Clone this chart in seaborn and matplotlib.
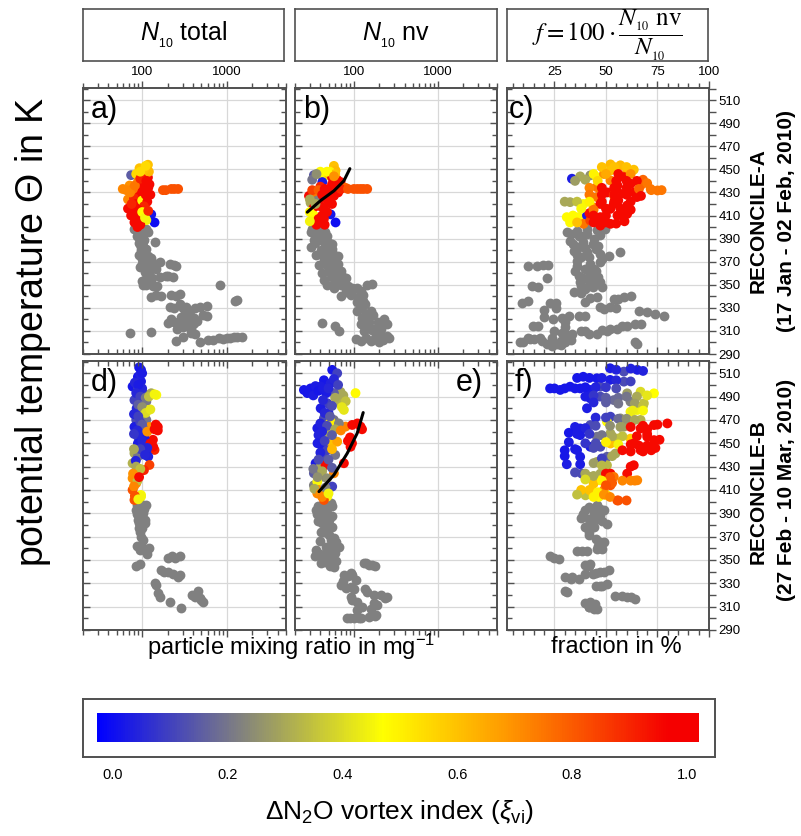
import numpy as np
import matplotlib
matplotlib.use('Agg')
import matplotlib.pyplot as plt
import seaborn as sns
from matplotlib.colors import LinearSegmentedColormap, Normalize
from matplotlib.cm import ScalarMappable
from matplotlib.ticker import FixedLocator, LogLocator, NullFormatter

sns.set_style('white')
plt.rcParams['font.family'] = ['Liberation Sans', 'DejaVu Sans']
plt.rcParams['mathtext.fontset'] = 'custom'
plt.rcParams['mathtext.rm'] = 'Liberation Sans'
plt.rcParams['mathtext.it'] = 'Liberation Sans:italic'
plt.rcParams['mathtext.bf'] = 'Liberation Sans:bold'
for k in ['text.color', 'axes.labelcolor', 'xtick.color', 'ytick.color']:
    plt.rcParams[k] = 'black'

# gray points: (mixing ratio / fraction, theta); coloured points: (x, theta, vortex index)
a_gray = [(85, 400), (89, 396), (107, 397), (117, 396), (93, 389), (102, 384), (140, 387), (97, 380), (107, 376),
          (128, 373), (161, 370), (212, 368), (117, 367), (147, 364), (107, 361), (122, 359), (161, 357), (202, 358),
          (102, 350), (134, 349), (833, 350), (128, 339), (168, 340), (221, 341), (278, 342), (212, 331), (278, 333),
          (366, 327), (481, 331), (577, 332), (1314, 337), (202, 317), (266, 316), (334, 314), (439, 319), (577, 323),
          (420, 307), (71, 308), (128, 309), (254, 301), (481, 300), (693, 302), (910, 303), (1314, 305), (90, 392),
          (95, 385), (100, 378), (112, 371), (95, 365), (110, 355), (120, 352), (240, 367), (250, 366), (300, 330),
          (320, 325), (360, 320), (380, 312), (800, 304), (1000, 304), (1200, 305), (1500, 305), (240, 318),
          (290, 322), (400, 316), (80, 398), (95, 399), (110, 398), (88, 392), (100, 392), (92, 386), (105, 389),
          (98, 383), (110, 381), (92, 376), (100, 372), (118, 375), (130, 370), (100, 368), (108, 365), (125, 366),
          (140, 365), (112, 362), (115, 357), (130, 356), (100, 353), (110, 350), (150, 349), (190, 358), (230, 357),
          (145, 341), (250, 340), (240, 330), (330, 331), (420, 330), (220, 320), (290, 320), (330, 324), (410, 321),
          (520, 324), (260, 312), (300, 313), (350, 316), (410, 317), (1250, 336), (600, 302), (1100, 304),
          (300, 305), (380, 308)]
a_col = [(117, 454, 0.6), (93, 451, 0.6), (74, 445, 0.15), (85, 446, 0.55), (102, 447, 0.65), (59, 433, 0.72),
         (71, 436, 0.7), (89, 439, 0.72), (117, 443, 0.95), (122, 437, 0.95), (112, 431, 0.95), (176, 432, 0.82),
         (221, 433, 0.82), (266, 433, 0.82), (68, 424, 0.72), (89, 427, 0.95), (107, 427, 0.75), (102, 421, 0.25),
         (107, 417, 0.48), (68, 416, 0.95), (85, 416, 0.95), (93, 411, 0.5), (128, 411, 0.02), (140, 404, 0.0),
         (81, 404, 0.95), (112, 406, 0.45), (74, 410, 0.95), (100, 440, 0.9), (105, 435, 0.95), (95, 430, 0.95),
         (80, 425, 0.9), (110, 445, 0.92), (120, 448, 0.62), (85, 420, 0.95), (95, 412, 0.92), (90, 405, 0.95),
         (78, 433, 0.75), (100, 423, 0.48), (65, 432, 0.72), (72, 430, 0.72), (82, 436, 0.75), (95, 442, 0.9),
         (112, 440, 0.95), (118, 434, 0.95), (125, 428, 0.95), (115, 422, 0.95), (105, 418, 0.9), (90, 415, 0.95),
         (80, 409, 0.95), (95, 402, 0.95), (88, 400, 0.95), (100, 410, 0.95), (105, 450, 0.6), (110, 453, 0.55),
         (95, 448, 0.55), (190, 432, 0.82), (240, 433, 0.82), (75, 420, 0.9), (110, 428, 0.95), (100, 413, 0.48),
         (108, 408, 0.45), (118, 414, 0.9)]

b_gray = [(35.1, 400), (42.2, 399), (30.6, 396), (38.5, 393), (33.5, 389), (44.1, 387), (30.6, 383), (40.3, 380),
          (52.9, 379), (35.1, 376), (48.3, 373), (60.6, 370), (38.5, 367), (50.5, 364), (42.2, 360), (57.9, 359),
          (44.1, 354), (63.4, 353), (48.3, 350), (76.1, 349), (95.5, 347), (69.5, 340), (91.3, 341), (144, 350),
          (114.6, 339), (125.6, 331), (157.6, 327), (109.5, 327), (125.6, 321), (207, 316), (248, 316), (42.2, 317),
          (66.4, 310), (131.4, 310), (198, 307), (120, 301), (157.6, 301), (248, 306), (46, 392), (55, 385), (65, 375),
          (70, 362), (80, 356), (100, 346), (130, 336), (140, 325), (150, 318), (175, 312), (140, 304), (220, 302),
          (230, 320), (32, 398), (38, 397), (45, 396), (48, 392), (36, 390), (42, 389), (50, 386), (35, 386), (46, 383),
          (55, 381), (42, 377), (48, 376), (58, 376), (44, 372), (54, 371), (65, 368), (46, 368), (56, 365), (62, 362),
          (50, 361), (68, 358), (75, 357), (55, 357), (60, 352), (70, 350), (85, 349), (110, 347), (58, 347), (80, 344),
          (120, 345), (130, 341), (165, 351), (110, 335), (120, 330), (135, 333), (140, 322), (170, 324), (120, 316),
          (135, 315), (195, 318), (165, 311), (210, 312), (180, 304), (260, 304), (200, 300), (105, 303), (60, 314)]
b_col = [(57.9, 453, 0.6), (60.6, 449, 0.62), (33.5, 445, 0.15), (38.5, 446, 0.3), (44.1, 444, 0.46),
         (50.5, 446, 0.62), (42.2, 439, 0.03), (63.4, 441, 0.95), (69.5, 439, 0.95), (79.7, 434, 0.78), (100, 433, 0.82),
         (120, 433, 0.82), (144, 433, 0.82), (29.3, 427, 0.95), (35.1, 429, 0.75), (48.3, 430, 0.95), (57.9, 427, 0.95),
         (30.6, 421, 0.3), (36.8, 423, 0.22), (50.5, 421, 0.95), (33.5, 417, 0.95), (44.1, 416, 0.95), (52.9, 411, 0.02),
         (60.6, 404, 0.0), (33.5, 410, 0.48), (38.5, 404, 0.95), (44.1, 407, 0.95), (40, 435, 0.9), (55, 437, 0.95),
         (45, 425, 0.95), (65, 430, 0.95), (30, 413, 0.48), (36, 402, 0.95), (52, 448, 0.5), (32, 441, 0.2),
         (32, 432, 0.85), (38, 432, 0.8), (45, 433, 0.95), (52, 433, 0.95), (58, 435, 0.95), (62, 433, 0.95),
         (70, 433, 0.9), (85, 433, 0.82), (42, 428, 0.95), (50, 426, 0.95), (55, 420, 0.95), (40, 418, 0.95),
         (48, 413, 0.95), (42, 410, 0.95), (38, 407, 0.95), (45, 402, 0.95), (35, 420, 0.3), (30, 424, 0.3),
         (55, 443, 0.95), (60, 446, 0.6), (48, 448, 0.48), (40, 448, 0.48), (36, 446, 0.25), (62, 438, 0.95),
         (110, 433, 0.82), (130, 433, 0.82), (30, 405, 0.45), (58, 444, 0.7)]
b_fit_x = [28.0, 40.2, 58.0, 76.0, 89.6]
b_fit_t = [412.9, 422.9, 431.4, 440.0, 450.6]

c_gray = [(31, 395.5), (35.9, 397), (40.8, 398.4), (45.6, 397.5), (49.7, 398.4), (32.6, 388), (39.1, 387), (43.9, 385),
          (34.3, 379.6), (40.8, 378), (47.3, 376.7), (51.3, 375), (35.9, 371), (42.4, 368), (47.3, 369.4), (35.1, 362),
          (42.4, 359), (37.5, 352), (43.9, 347.7), (47.3, 352), (16.4, 366.5), (19.6, 367), (22, 367), (21.3, 356),
          (17.2, 347.7), (9.1, 334), (22.9, 334), (34.3, 343.3), (42.4, 338.4), (45.6, 339.6), (53.8, 337.5),
          (58.7, 339), (52.2, 331), (49, 329), (66, 327.4), (70, 326), (74, 324.5), (24.5, 320), (28.6, 321.6),
          (36.7, 323), (14.8, 314), (28.6, 308.6), (33.5, 307), (45.6, 307), (50.7, 310), (55.6, 311.4), (60.3, 314),
          (64.3, 315.8), (13.1, 302.8), (18, 304.2), (23.7, 304.2), (26.1, 298.4), (21.3, 298.4), (30.2, 300),
          (65.2, 298.4), (8.3, 300), (38, 392), (44, 390), (37, 383), (45, 381), (38, 374), (44, 364), (39, 356),
          (46, 357), (57, 378), (40, 346), (20, 328), (26, 330), (30, 313), (40, 310), (12, 304), (42, 349), (33, 394),
          (37, 392), (41, 394), (47, 393), (34, 385), (40, 382), (46, 384), (36, 376), (42, 374), (48, 372), (36, 366),
          (40, 364), (45, 362), (37, 358), (41, 355), (45, 352), (38, 349), (44, 352), (48, 348), (12, 366), (14, 349),
          (12, 336), (26, 334), (38, 343), (56, 338), (62, 340), (47, 331), (55, 330), (78, 323), (20, 322), (32, 323),
          (40, 323), (17, 314), (25, 310), (30, 307), (38, 310), (42, 307), (48, 311), (52, 312), (58, 314), (67, 316),
          (10, 300), (15, 303), (19, 301), (24, 300), (28, 301), (33, 302), (64, 300), (28, 298), (24, 297), (40, 335),
          (30, 318)]
c_col = [(52.2, 454.3, 0.62), (57, 453.5, 0.62), (60.3, 449, 0.66), (52.2, 449, 0.6), (63.5, 449.7, 0.6),
         (33.5, 441.9, 0.03), (37.5, 443.9, 0.3), (42.4, 444.8, 0.25), (45.6, 443.3, 0.46), (52.2, 440.4, 0.72),
         (58.7, 443.3, 0.95), (55.6, 436, 0.95), (62, 437.5, 0.95), (66.8, 436, 0.77), (71.7, 433, 0.75),
         (75, 431.7, 0.75), (45.6, 434.6, 0.75), (50.7, 430, 0.95), (57, 428.8, 0.95), (63.5, 430, 0.95), (65, 426, 0.95),
         (45.6, 426, 0.75), (53.8, 427.4, 0.78), (32.6, 421.6, 0.3), (39.1, 420, 0.46), (44, 417, 0.66), (47.3, 420, 0.95),
         (53.8, 420, 0.95), (60.3, 418.7, 0.95), (52.2, 415.8, 0.95), (31, 408.6, 0.48), (36.7, 408.6, 0.48),
         (40.8, 410, 0.03), (47.3, 408.6, 0.95), (55.6, 410, 0.95), (60.3, 411.4, 0.95), (45.6, 407, 0.95),
         (32.6, 404, 0.48), (39.1, 402.8, 0.75), (47.3, 401.3, 0.95), (52.2, 402.8, 0.95), (42.4, 405.7, 0.85),
         (49, 446, 0.7), (68, 441, 0.78), (56, 423, 0.95), (42, 412, 0.95), (35, 440, 0.28), (59, 405, 0.95),
         (48, 452, 0.6), (54, 452, 0.6), (60, 452, 0.6), (44, 446, 0.5), (50, 446, 0.65), (56, 446, 0.95),
         (62, 446, 0.7), (40, 441, 0.3), (46, 440, 0.55), (55, 440, 0.95), (60, 440, 0.95), (65, 440, 0.95),
         (70, 438, 0.75), (42, 434, 0.72), (48, 434, 0.95), (54, 434, 0.95), (60, 434, 0.95), (66, 433, 0.78),
         (72, 432, 0.75), (77, 432, 0.75), (42, 428, 0.75), (48, 428, 0.95), (54, 428, 0.95), (60, 428, 0.95),
         (67, 427, 0.95), (30, 422, 0.3), (36, 422, 0.35), (42, 422, 0.5), (48, 422, 0.95), (54, 422, 0.95),
         (62, 422, 0.95), (38, 416, 0.46), (44, 415, 0.75), (50, 416, 0.95), (57, 416, 0.95), (62, 415, 0.95),
         (34, 410, 0.48), (44, 410, 0.95), (50, 410, 0.95), (58, 410, 0.95), (36, 404, 0.6), (44, 404, 0.95),
         (50, 404, 0.95), (55, 403, 0.95)]

d_gray = [(93, 398.6), (112, 397), (85, 393), (102, 390), (89, 384), (107, 384), (97, 380), (95.5, 374), (102, 367),
          (93, 358.6), (122, 360), (112, 358), (93, 346.6), (202, 351.4), (243, 352), (278, 353.4), (168, 341.4),
          (202, 340), (265, 335.7), (147, 328.6), (161, 318.6), (212, 314.3), (291, 308.6), (384, 320), (460, 323),
          (481, 317), (526, 314), (90, 395), (98, 387), (92, 377), (108, 382), (88, 397), (96, 396), (104, 394),
          (86, 389), (95, 392), (100, 386), (92, 382), (99, 377), (96, 370), (88, 362), (100, 361), (115, 355),
          (225, 353), (180, 340), (230, 338), (280, 337), (140, 330), (155, 322), (420, 318), (500, 316), (85, 345)]
d_col = [(97, 512.9, 0.02), (89, 507, 0.02), (97, 503, 0.03), (77, 498.6, 0.02), (89, 497, 0.08), (104, 492.9, 0.15),
         (128, 492.9, 0.3), (147, 491.4, 0.46), (81, 487, 0.1), (112, 485.7, 0.2), (118, 478.6, 0.42), (102, 477, 0.38),
         (85, 470, 0.12), (112, 470, 0.2), (81, 464, 0.03), (122, 464, 0.7), (153, 464, 0.95), (153, 461, 0.95),
         (102, 463, 0.15), (89, 455.7, 0.12), (134, 453, 0.95), (107, 454, 0.03), (89, 450, 0.03), (128, 447, 0.95),
         (140, 444.3, 0.9), (112, 443, 0.03), (118, 438.6, 0.04), (81, 441.4, 0.3), (89, 438.6, 0.2), (122, 431.4, 0.85),
         (77, 432.9, 0.32), (89, 424.3, 0.2), (93, 425.7, 0.95), (77, 420, 0.7), (85, 415.7, 0.72), (77, 410, 0.82),
         (97, 405.7, 0.46), (81, 401.4, 0.82), (97, 404.3, 0.45), (95, 509, 0.04), (100, 497, 0.05), (86, 480, 0.05),
         (95, 468, 0.1), (90, 458, 0.05), (100, 448, 0.05), (84, 435, 0.04), (105, 427, 0.9), (88, 418, 0.35),
         (92, 515, 0.02), (100, 510, 0.03), (82, 502, 0.05), (90, 500, 0.03), (85, 493, 0.05), (95, 490, 0.1),
         (110, 489, 0.2), (120, 490, 0.35), (140, 492, 0.45), (90, 483, 0.15), (100, 481, 0.25), (110, 476, 0.4),
         (125, 479, 0.42), (80, 475, 0.05), (90, 473, 0.1), (100, 466, 0.15), (88, 461, 0.05), (115, 460, 0.7),
         (140, 462, 0.95), (145, 466, 0.95), (80, 458, 0.08), (100, 452, 0.05), (125, 450, 0.95), (135, 447, 0.95),
         (115, 446, 0.05), (95, 445, 0.1), (80, 445, 0.3), (108, 440, 0.05), (85, 430, 0.3), (95, 428, 0.35),
         (78, 424, 0.7), (92, 421, 0.95), (80, 413, 0.72), (82, 405, 0.82), (90, 402, 0.45)]

e_gray = [(35.1, 392.9), (44.1, 394.3), (52.9, 398.6), (40.3, 388.6), (50.5, 384.3), (42.2, 381.4), (40.3, 374),
          (52.9, 367), (46.1, 361.4), (66.4, 361.4), (35.1, 358.6), (42.2, 352.9), (52.9, 352.9), (40.3, 347),
          (57.9, 344.3), (131.4, 347), (165, 345.7), (76.1, 337), (91.3, 338.6), (69.5, 328.6), (91.3, 327), (144, 322.9),
          (91.3, 318.6), (172.6, 312.9), (248, 318.6), (125.6, 310), (180.6, 302.9), (83.4, 300), (114.6, 300), (38, 396),
          (48, 390), (45, 377), (60, 364), (48, 357), (62, 349), (105, 333), (210, 320), (100, 300), (160, 308),
          (42, 392), (48, 395), (55, 396), (36, 389), (45, 386), (55, 388), (38, 383), (48, 380), (55, 378), (44, 374),
          (50, 371), (58, 369), (40, 366), (62, 365), (55, 360), (40, 355), (48, 354), (60, 356), (35, 353), (45, 348),
          (52, 345), (140, 347), (150, 346), (180, 345), (85, 336), (95, 337), (75, 332), (80, 326), (100, 325),
          (135, 325), (95, 316), (110, 314), (175, 320), (235, 317), (190, 311), (110, 307), (150, 301), (180, 302),
          (90, 300), (120, 300)]
e_col = [(55.3, 512.9, 0.02), (63.4, 510, 0.1), (44.1, 504, 0.02), (25.5, 495.7, 0.02), (30.6, 497, 0.02),
         (40.3, 498.6, 0.03), (52.9, 501.4, 0.04), (69.5, 494, 0.3), (57.9, 493, 0.15), (104.6, 493, 0.48),
         (76.1, 478.6, 0.42), (69.5, 484.3, 0.32), (48.3, 484.3, 0.1), (40.3, 480, 0.03), (44.1, 471.4, 0.12),
         (57.9, 470, 0.2), (52.9, 468.6, 0.5), (36.8, 462.9, 0.03), (48.3, 458.6, 0.3), (79.7, 464.3, 0.72),
         (120, 464.3, 0.95), (95.5, 465.7, 0.95), (66.4, 467, 0.22), (40.3, 452.9, 0.03), (52.9, 450, 0.6),
         (63.4, 451.4, 0.66), (91.3, 447, 0.95), (42.2, 447, 0.03), (44.1, 438.6, 0.12), (35.1, 432.9, 0.03),
         (40.3, 430, 0.3), (46.1, 431.4, 0.95), (33.5, 424.3, 0.15), (42.2, 421.4, 0.22), (57.9, 424.3, 0.72),
         (76.1, 432.9, 0.95), (33.5, 414, 0.22), (36.8, 417, 0.46), (55.3, 412.9, 0.1), (36.8, 407, 0.72),
         (48.3, 404.3, 0.48), (44.1, 401.4, 0.82), (38.5, 410, 0.7), (35, 499, 0.03), (47, 493, 0.03), (50, 476, 0.05),
         (38, 457, 0.04), (48, 444, 0.1), (85, 452, 0.95), (60, 440, 0.2), (28, 493, 0.02), (33, 491, 0.03),
         (38, 495, 0.02), (43, 497, 0.03), (50, 497, 0.05), (58, 505, 0.05), (65, 500, 0.1), (60, 489, 0.3),
         (75, 491, 0.3), (80, 486, 0.35), (72, 481, 0.42), (55, 482, 0.12), (43, 487, 0.05), (45, 476, 0.05),
         (52, 473, 0.15), (40, 467, 0.04), (48, 465, 0.12), (60, 462, 0.3), (55, 457, 0.15), (42, 460, 0.04),
         (70, 461, 0.72), (110, 467, 0.95), (125, 462, 0.95), (90, 455, 0.95), (95, 450, 0.95), (37, 450, 0.03),
         (45, 452, 0.1), (55, 445, 0.62), (40, 442, 0.04), (50, 436, 0.15), (38, 436, 0.12), (33, 428, 0.2),
         (42, 426, 0.3), (48, 420, 0.25), (37, 421, 0.25), (55, 429, 0.15), (34, 411, 0.3), (40, 407, 0.7),
         (46, 412, 0.22), (42, 404, 0.72), (50, 407, 0.45)]
e_fit_x = [38.5, 58.0, 83.4, 109.5, 129.0]
e_fit_t = [408.6, 422.9, 441.4, 458.6, 476.3]

f_gray = [(41.6, 395.4), (45.7, 396.8), (48.9, 392.5), (39.1, 389.6), (43.9, 386.8), (47.3, 388.2), (42.4, 382.5),
          (50.5, 381), (41.6, 373.9), (47.3, 365.3), (45.7, 359.6), (38.3, 358.1), (35.9, 357.6), (22.9, 353), (27, 351),
          (42.4, 346.7), (43.9, 338), (47.3, 339.5), (51.3, 341), (33.5, 335.2), (36.7, 333.8), (47.3, 328),
          (50.5, 329.5), (31, 322.3), (54.6, 319.5), (60.3, 318), (64.3, 316.6), (42.4, 313.7), (44.8, 312.3),
          (45.7, 308), (41.6, 309.4), (40, 393), (44, 391), (47, 394), (38, 386), (42, 385), (46, 385), (48, 383),
          (40, 378), (44, 378), (42, 371), (45, 368), (46, 362), (49, 365), (48, 359), (41, 358), (25, 352), (40, 346),
          (42, 345), (30, 335), (40, 338), (45, 339), (49, 340), (33, 334), (45, 328), (48, 328), (30, 323), (58, 319),
          (62, 318), (40, 313), (44, 308), (42, 310)]
f_col = [(52, 514.3, 0.03), (58.7, 511.4, 0.12), (65.2, 512.9, 0.03), (39, 507, 0.02), (45.6, 505.7, 0.02),
         (52, 504.3, 0.03), (58.7, 502.8, 0.12), (22.9, 497, 0.02), (27.8, 495.7, 0.02), (32.6, 498.5, 0.02),
         (37.5, 497, 0.02), (42.4, 495.7, 0.03), (47.3, 498.5, 0.12), (42.4, 488.5, 0.03), (47.3, 490, 0.12),
         (53.8, 487, 0.18), (60.3, 492.8, 0.28), (66.8, 494.2, 0.4), (73.3, 492.8, 0.47), (61.9, 485.6, 0.22),
         (68.4, 484.2, 0.35), (61.9, 477, 0.45), (65.2, 478.5, 0.45), (40.8, 480, 0.03), (52.2, 472.8, 0.1),
         (57, 471.3, 0.25), (66.8, 470, 0.32), (50.5, 468.5, 0.48), (42.4, 465.6, 0.12), (37.5, 462.7, 0.03),
         (58.7, 464.2, 0.28), (66.8, 462.7, 0.95), (73.3, 465.6, 0.95), (79.8, 467, 0.95), (37.5, 457, 0.03),
         (45.6, 455.6, 0.2), (52.2, 458.4, 0.3), (55.5, 454, 0.35), (61.9, 454, 0.58), (70, 455.6, 0.95),
         (73.3, 452.7, 0.95), (36, 444.1, 0.03), (42.4, 447, 0.03), (47.3, 447, 0.12), (52.2, 449.8, 0.6),
         (63.5, 449.8, 0.95), (66.8, 444.1, 0.95), (71.7, 445.5, 0.95), (37.5, 438.4, 0.03), (50.5, 438.4, 0.15),
         (54.6, 441.2, 0.3), (37.5, 432, 0.03), (45.6, 434, 0.3), (50.5, 431.2, 0.33), (63.5, 431.2, 0.95),
         (38.3, 424, 0.12), (42.4, 421.2, 0.3), (47.3, 424, 0.3), (52.2, 424, 0.95), (53.8, 421.2, 0.75),
         (60.3, 424, 0.95), (65.2, 418.3, 0.72), (52.2, 414, 0.82), (47.3, 418.3, 0.5), (44, 415.4, 0.6),
         (40.1, 405.4, 0.35), (43.2, 408.3, 0.58), (46.5, 404, 0.48), (50.5, 405.4, 0.5), (48.9, 409.7, 0.7),
         (55.5, 401, 0.82), (55, 513, 0.04), (62, 514, 0.04), (68, 512, 0.04), (36, 506, 0.02), (42, 506, 0.02),
         (48, 506, 0.03), (55, 504, 0.05), (62, 503, 0.1), (25, 497, 0.02), (30, 497, 0.02), (35, 497, 0.02),
         (40, 498, 0.02), (45, 498, 0.04), (50, 498, 0.08), (55, 497, 0.12), (40, 490, 0.03), (44, 491, 0.08),
         (50, 489, 0.15), (56, 489, 0.18), (60, 490, 0.2), (65, 490, 0.3), (70, 491, 0.42), (44, 485, 0.05),
         (50, 485, 0.15), (56, 484, 0.2), (64, 484, 0.28), (68, 482, 0.35), (63, 478, 0.44), (68, 478, 0.46),
         (45, 472, 0.05), (50, 472, 0.1), (56, 471, 0.18), (60, 471, 0.25), (64, 470, 0.3), (35, 464, 0.03),
         (40, 463, 0.04), (45, 465, 0.12), (52, 465, 0.25), (57, 464, 0.28), (62, 464, 0.95), (68, 465, 0.95),
         (75, 466, 0.95), (70, 462, 0.95), (32, 459, 0.02), (36, 458, 0.03), (42, 458, 0.08), (48, 457, 0.2),
         (53, 456, 0.3), (58, 456, 0.35), (65, 456, 0.95), (70, 458, 0.95), (76, 453, 0.95), (32, 451, 0.03),
         (40, 450, 0.08), (45, 450, 0.12), (50, 451, 0.5), (56, 449, 0.45), (62, 449, 0.95), (66, 448, 0.95),
         (70, 448, 0.95), (74, 446, 0.95), (30, 444, 0.02), (35, 445, 0.03), (44, 446, 0.12), (62, 443, 0.95),
         (68, 443, 0.95), (72, 444, 0.95), (58, 444, 0.95), (30, 439, 0.02), (48, 437, 0.1), (53, 439, 0.3),
         (31, 432, 0.03), (44, 433, 0.28), (48, 431, 0.33), (62, 430, 0.95), (35, 425, 0.12), (40, 424, 0.3),
         (44, 422, 0.3), (50, 424, 0.95), (52, 421, 0.8), (58, 418, 0.72), (62, 418, 0.72), (64, 418, 0.72),
         (40, 419, 0.4), (48, 418, 0.5), (53, 416, 0.8), (50, 414, 0.82), (38, 410, 0.6), (42, 410, 0.6),
         (46, 408, 0.5), (49, 406, 0.7), (52, 404, 0.72), (56, 401, 0.82), (60, 401, 0.82), (36, 406, 0.35),
         (44, 404, 0.5)]

cbar_ticks = [0.0, 0.2, 0.4, 0.6, 0.8, 1.0]
theta_major = list(range(290, 521, 20))
theta_minor = list(range(300, 521, 20))

W, H = 801, 836


def box(l, t, r, b):
    return [l / W, 1 - b / H, (r - l) / W, (b - t) / H]


cmap = LinearSegmentedColormap.from_list('vortex', [(0, '#0000ff'), (0.235, '#808080'), (0.475, '#ffff00'),
                                                    (0.68, '#ff9900'), (0.95, '#f50000'), (1, '#f50000')])
norm = Normalize(-0.026, 1.021)
frame_col = '#505050'

fig = plt.figure(figsize=(W / 100, H / 100), dpi=100)

cols = [(83, 286), (295, 497), (507, 709)]
rows = [(88, 354), (361, 630)]
panels = [
    ('a)', 0, 0, a_gray, a_col, None, None),
    ('b)', 0, 1, b_gray, b_col, b_fit_x, b_fit_t),
    ('c)', 0, 2, c_gray, c_col, None, None),
    ('d)', 1, 0, d_gray, d_col, None, None),
    ('e)', 1, 1, e_gray, e_col, e_fit_x, e_fit_t),
    ('f)', 1, 2, f_gray, f_col, None, None),
]

for label, r, c, gray, col, fx, ft in panels:
    l, rr = cols[c]
    t, b = rows[r]
    ax = fig.add_axes(box(l, t, rr, b))
    if c < 2:
        ax.set_xscale('log')
        xlim = (20, 5000)
        major = [100, 1000]
        major_lbl = ['100', '1000']
    else:
        xlim = (2, 100)
        major = [25, 50, 75, 100]
        major_lbl = ['25', '50', '75', '100']

    gx, gt = zip(*gray)
    cx, ct, cxi = zip(*col)
    sns.scatterplot(x=list(gx), y=list(gt), color='#808080', s=50, linewidth=0, ax=ax, zorder=3)
    sns.scatterplot(x=list(cx), y=list(ct), hue=list(cxi), palette=cmap, hue_norm=norm, s=50, linewidth=0,
                    legend=False, ax=ax, zorder=4)
    if fx is not None:
        sns.lineplot(x=fx, y=ft, sort=False, color='black', lw=2.2, ax=ax, zorder=5)

    ax.set_xlim(*xlim)
    ax.set_ylim(290, 520.5)
    ax.set_xlabel('')
    ax.set_ylabel('')

    def set_xticks(a):
        a.xaxis.set_major_locator(FixedLocator(major))
        if c < 2:
            a.xaxis.set_minor_locator(LogLocator(base=10, subs=np.arange(2, 10)))
        else:
            a.xaxis.set_minor_locator(FixedLocator(np.arange(5, 100, 5)))
        a.xaxis.set_minor_formatter(NullFormatter())

    set_xticks(ax)
    ax.yaxis.set_major_locator(FixedLocator(theta_major))
    ax.yaxis.set_minor_locator(FixedLocator(theta_minor))
    ax.grid(True, which='major', color='#d8d8d8', lw=0.9)
    ax.set_axisbelow(True)
    ax.tick_params(axis='x', which='both', bottom=True, top=False, labelbottom=False,
                   direction='in' if r == 0 else 'out', color=frame_col)
    ax.tick_params(axis='y', which='both', left=True, right=(c < 2), labelleft=False, labelright=False,
                   direction='in', color=frame_col)
    ax.tick_params(which='major', length=5, width=1)
    ax.tick_params(which='minor', length=3.5, width=1)
    for s in ax.spines.values():
        s.set_color(frame_col)
        s.set_linewidth(1.4)

    tw = ax.twiny()
    if c < 2:
        tw.set_xscale('log')
    tw.set_xlim(*xlim)
    set_xticks(tw)
    tw.set_xticklabels(major_lbl if r == 0 else [])
    tw.tick_params(axis='x', which='both', top=True, bottom=False, labeltop=(r == 0),
                   direction='out' if r == 0 else 'in', color=frame_col, labelsize=9.5, pad=2)
    tw.tick_params(which='major', length=5, width=1)
    tw.tick_params(which='minor', length=3.5, width=1)
    for s in tw.spines.values():
        s.set_visible(False)

    if c == 2:
        ty = ax.twinx()
        ty.set_ylim(290, 520.5)
        ty.yaxis.set_major_locator(FixedLocator(theta_major))
        ty.yaxis.set_minor_locator(FixedLocator(theta_minor))
        ty.tick_params(axis='y', which='both', right=True, left=False, labelright=True,
                       direction='out', color=frame_col, labelsize=9.5, pad=2)
        ty.tick_params(which='major', length=5, width=1)
        ty.tick_params(which='minor', length=5, width=1)
        for s in ty.spines.values():
            s.set_visible(False)

    if label == 'e)':
        ax.text(0.93, 0.975, label, transform=ax.transAxes, ha='right', va='top', fontsize=22, zorder=6)
    else:
        ax.text(0.01 if label == 'c)' else 0.04, 0.975, label, transform=ax.transAxes,
                ha='left', va='top', fontsize=22, zorder=6)

# header boxes
headers = [r'$N_{_{10}}$ total', r'$N_{_{10}}$ nv', r'$f = 100\cdot\dfrac{N_{_{10}}\ \mathrm{nv}}{N_{_{10}}}$']
for i, (l, rr) in enumerate([(83, 284), (295, 497), (507, 708)]):
    hx = fig.add_axes(box(l, 9, rr, 61))
    hx.set_xticks([])
    hx.set_yticks([])
    for s in hx.spines.values():
        s.set_color(frame_col)
        s.set_linewidth(1.2)
    if i < 2:
        hx.text(0.5, 0.5, headers[i], ha='center', va='center', fontsize=18, transform=hx.transAxes)
    else:
        hx.text(0.5, 0.5, headers[i], ha='center', va='center', fontsize=18, transform=hx.transAxes,
                math_fontfamily='stix')

# axis titles
fig.text(33 / W, 1 - 332 / H, r'potential temperature $\Theta$ in K', rotation=90, ha='center', va='center',
         fontsize=27)
fig.text(291 / W, 1 - 647 / H, r'particle mixing ratio in mg$^{-1}$', ha='center', va='center', fontsize=17)
fig.text(616 / W, 1 - 647 / H, 'fraction in %', ha='center', va='center', fontsize=17)
fig.text(758 / W, 1 - 221 / H, 'RECONCILE-A', rotation=90, ha='center', va='center', fontsize=15,
         fontweight='bold')
fig.text(787 / W, 1 - 221 / H, '(17 Jan - 02 Feb, 2010)', rotation=90, ha='center', va='center', fontsize=15,
         fontweight='bold')
fig.text(758 / W, 1 - 492 / H, 'RECONCILE-B', rotation=90, ha='center', va='center', fontsize=15,
         fontweight='bold')
fig.text(787 / W, 1 - 490 / H, '(27 Feb - 10 Mar, 2010)', rotation=90, ha='center', va='center', fontsize=15,
         fontweight='bold')

# colour bar in a framed box
ob = fig.add_axes(box(83, 699, 715, 757))
ob.set_xlim(-0.0515, 1.049)
ob.set_ylim(0, 1)
ob.set_xticks(cbar_ticks)
ob.set_xticklabels([f'{v:.1f}' for v in cbar_ticks])
ob.set_yticks([])
ob.tick_params(axis='x', direction='out', length=5, width=1.2, color='#909090', labelsize=10.5, pad=3)
for s in ob.spines.values():
    s.set_color(frame_col)
    s.set_linewidth(1.4)

cax = fig.add_axes(box(97.3, 713, 698.7, 742))
cb = fig.colorbar(ScalarMappable(norm=norm, cmap=cmap), cax=cax, orientation='horizontal')
cb.set_ticks([])
cb.outline.set_visible(False)

fig.text(400 / W, 1 - 812 / H, r'$\Delta$N$_2$O vortex index ($\xi_{\mathrm{vi}}$)', ha='center', va='center',
         fontsize=19)

fig.savefig('out.png', dpi=100)
